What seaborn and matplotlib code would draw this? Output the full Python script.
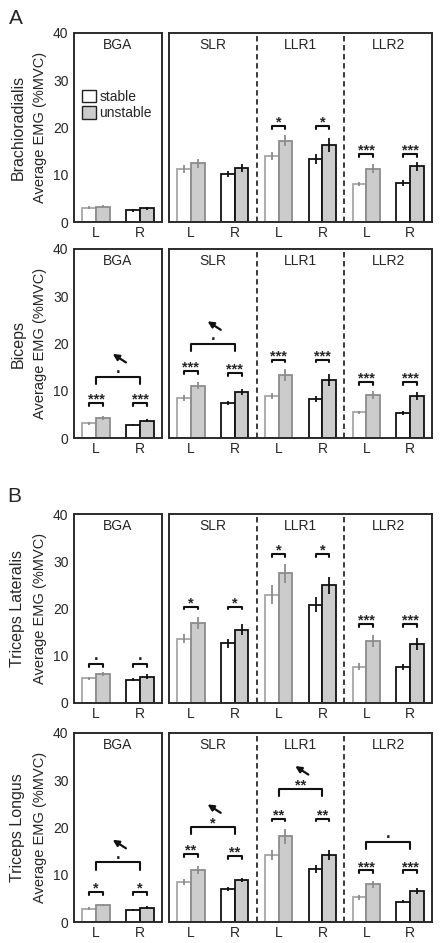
import numpy as np
import pandas as pd
import matplotlib.pyplot as plt
import seaborn as sns
from matplotlib.patches import Patch

# ---- data ----
windows = ["BGA", "SLR", "LLR1", "LLR2"]
sides = ["L", "R"]
conditions = ["stable", "unstable"]
muscles = ["Brachioradialis", "Biceps", "Triceps Lateralis", "Triceps Longus"]

# order of every list: BGA-L, BGA-R, SLR-L, SLR-R, LLR1-L, LLR1-R, LLR2-L, LLR2-R
brachio_stable = [3.0, 2.5, 11.2, 10.2, 14.0, 13.3, 8.0, 8.3]
brachio_unstable = [3.2, 2.9, 12.4, 11.4, 17.2, 16.3, 11.3, 11.8]
brachio_stable_err = [0.3, 0.3, 0.8, 0.6, 0.9, 1.0, 0.4, 0.6]
brachio_unstable_err = [0.3, 0.3, 1.0, 0.9, 1.2, 1.4, 1.0, 1.0]

biceps_stable = [3.1, 2.8, 8.4, 7.4, 8.9, 8.3, 5.4, 5.3]
biceps_unstable = [4.3, 3.7, 11.1, 9.7, 13.3, 12.3, 9.1, 8.9]
biceps_stable_err = [0.3, 0.2, 0.6, 0.5, 0.7, 0.6, 0.4, 0.5]
biceps_unstable_err = [0.4, 0.3, 0.8, 0.7, 1.2, 1.2, 0.8, 0.9]

tri_lat_stable = [5.2, 4.9, 13.6, 12.6, 22.9, 20.8, 7.7, 7.6]
tri_lat_unstable = [6.2, 5.6, 16.9, 15.5, 27.5, 24.9, 13.1, 12.5]
tri_lat_stable_err = [0.4, 0.3, 0.9, 1.0, 2.0, 1.6, 0.7, 0.6]
tri_lat_unstable_err = [0.4, 0.5, 1.2, 1.2, 2.0, 1.8, 1.2, 1.2]

tri_long_stable = [2.8, 2.5, 8.4, 7.0, 14.2, 11.2, 5.2, 4.3]
tri_long_unstable = [3.6, 3.0, 11.0, 8.9, 18.1, 14.2, 8.0, 6.6]
tri_long_stable_err = [0.3, 0.2, 0.6, 0.4, 1.0, 0.8, 0.5, 0.3]
tri_long_unstable_err = [0.3, 0.3, 0.9, 0.5, 1.5, 1.0, 0.7, 0.6]

# stable vs unstable brackets: (window, side, label, bracket height)
brachio_pairs = [("LLR1", "L", "*", 20.3), ("LLR1", "R", "*", 20.3),
                 ("LLR2", "L", "***", 14.3), ("LLR2", "R", "***", 14.3)]
biceps_pairs = [("BGA", "L", "***", 7.4), ("BGA", "R", "***", 7.4),
                ("SLR", "L", "***", 14.1), ("SLR", "R", "***", 13.8),
                ("LLR1", "L", "***", 16.6), ("LLR1", "R", "***", 16.6),
                ("LLR2", "L", "***", 11.8), ("LLR2", "R", "***", 11.8)]
tri_lat_pairs = [("BGA", "L", ".", 8.3), ("BGA", "R", ".", 8.3),
                 ("SLR", "L", "*", 20.4), ("SLR", "R", "*", 20.4),
                 ("LLR1", "L", "*", 31.6), ("LLR1", "R", "*", 31.6),
                 ("LLR2", "L", "***", 16.7), ("LLR2", "R", "***", 16.7)]
tri_long_pairs = [("BGA", "L", "*", 6.4), ("BGA", "R", "*", 6.4),
                  ("SLR", "L", "**", 14.3), ("SLR", "R", "**", 14.0),
                  ("LLR1", "L", "**", 21.9), ("LLR1", "R", "**", 21.9),
                  ("LLR2", "L", "***", 10.9), ("LLR2", "R", "***", 10.9)]

# L vs R brackets: (window, label, bracket height, arrow)
brachio_groups = []
biceps_groups = [("BGA", ".", 13.0, True), ("SLR", ".", 19.9, True)]
tri_lat_groups = []
tri_long_groups = [("BGA", ".", 12.6, True), ("SLR", "*", 20.1, True),
                   ("LLR1", "**", 28.2, True), ("LLR2", ".", 16.9, False)]

stable_vals = [brachio_stable, biceps_stable, tri_lat_stable, tri_long_stable]
unstable_vals = [brachio_unstable, biceps_unstable, tri_lat_unstable, tri_long_unstable]
stable_errs = [brachio_stable_err, biceps_stable_err, tri_lat_stable_err, tri_long_stable_err]
unstable_errs = [brachio_unstable_err, biceps_unstable_err, tri_lat_unstable_err, tri_long_unstable_err]
pair_sig = [brachio_pairs, biceps_pairs, tri_lat_pairs, tri_long_pairs]
group_sig = [brachio_groups, biceps_groups, tri_lat_groups, tri_long_groups]

slots = [w + "-" + s for w in windows for s in sides]

rows = []
for m, muscle in enumerate(muscles):
    for i, slot in enumerate(slots):
        rows.append([muscle, slot, "stable", stable_vals[m][i], stable_errs[m][i]])
        rows.append([muscle, slot, "unstable", unstable_vals[m][i], unstable_errs[m][i]])
data = pd.DataFrame(rows, columns=["muscle", "slot", "condition", "emg", "err"])

# ---- style ----
sns.set_style("white")
plt.rcParams["font.family"] = ["Liberation Sans", "DejaVu Sans"]

fill = {"stable": "white", "unstable": "#cccccc"}
edge_L = {"stable": "#a6a6a6", "unstable": "#8c8c8c"}
edge_R = {"stable": "#111111", "unstable": "#111111"}
spine_col = "#2b2b2b"

W, H = 442, 943
fig = plt.figure(figsize=(W / 100, H / 100), dpi=100)


def px_axes(x0, y0, w, h):
    return fig.add_axes([x0 / W, 1 - (y0 + h) / H, w / W, h / H])


def sig_text(ax, x, h, lab):
    # stars / marginal dot sitting just above a bracket
    if lab == ".":
        ax.text(x, h + 0.8, ".", ha="center", va="baseline", fontsize=12,
                fontweight="bold")
    else:
        ax.text(x, h - 0.1, lab, ha="center", va="baseline", fontsize=10.5,
                fontweight="bold")


def draw_panel(ax, sub, order, pairs, groups, show_y):
    sns.barplot(data=sub, x="slot", y="emg", hue="condition", order=order,
                hue_order=conditions, palette=fill, width=0.62, saturation=1,
                errorbar=None, legend=False, ax=ax)
    centers = {}
    for cond, cont in zip(conditions, ax.containers):
        for slot, bar in zip(order, cont):
            row = sub[(sub["slot"] == slot) & (sub["condition"] == cond)].iloc[0]
            side = slot.split("-")[1]
            ec = edge_L[cond] if side == "L" else edge_R[cond]
            ebc = "#8c8c8c" if side == "L" else "#111111"
            bar.set_edgecolor(ec)
            bar.set_linewidth(1.3)
            xc = bar.get_x() + bar.get_width() / 2
            centers[(slot, cond)] = xc
            ax.errorbar(xc, row["emg"], yerr=row["err"], fmt="none", ecolor=ebc,
                        elinewidth=1.3, capsize=0, zorder=3)

    for w, s, lab, h in pairs:
        slot = w + "-" + s
        x0, x1 = centers[(slot, "stable")], centers[(slot, "unstable")]
        ax.plot([x0, x0, x1, x1], [h - 0.6, h, h, h - 0.6], color="#111111", lw=1.5)
        sig_text(ax, (x0 + x1) / 2, h, lab)

    for w, lab, h, arrow in groups:
        xl = order.index(w + "-L")
        xr = order.index(w + "-R")
        ax.plot([xl, xl, xr, xr], [h - 1.5, h, h, h - 1.5], color="#111111", lw=1.5)
        gc = (xl + xr) / 2
        sig_text(ax, gc, h, lab)
        if arrow:
            ax.annotate("", xy=(gc - 0.12, h + 4.8), xytext=(gc + 0.18, h + 3.0),
                        arrowprops=dict(arrowstyle="-|>", color="#111111", lw=1.6,
                                        mutation_scale=9, shrinkA=0, shrinkB=0))

    ax.set_xlim(-0.5, len(order) - 0.5)
    ax.set_ylim(0, 40)
    ax.set_xlabel("")
    ax.set_ylabel("")
    ax.set_xticks(range(len(order)))
    ax.set_xticklabels([o.split("-")[1] for o in order], fontsize=10)
    ax.tick_params(axis="x", length=0, pad=3)
    if show_y:
        ax.set_yticks([0, 10, 20, 30, 40])
        ax.tick_params(axis="y", direction="in", length=4, width=1.2,
                       color=spine_col, labelsize=10, pad=4)
    else:
        ax.set_yticks([])
    for sp in ax.spines.values():
        sp.set_visible(True)
        sp.set_color(spine_col)
        sp.set_linewidth(1.4)
    for k in range(1, len(order) // 2):
        ax.axvline(2 * k - 0.5, color=spine_col, lw=1.3, ls=(0, (3, 2)))
    for k in range(len(order) // 2):
        ax.text(2 * k + 0.5, 37.4, order[2 * k].split("-")[0], ha="center",
                va="center", fontsize=10)


row_tops = [33, 249, 514, 733]
row_h = 189
for m, muscle in enumerate(muscles):
    sub = data[data["muscle"] == muscle]
    top = row_tops[m]
    ax_bga = px_axes(74, top, 88, row_h)
    ax_rest = px_axes(169, top, 263, row_h)
    pairs = pair_sig[m]
    groups = group_sig[m]
    draw_panel(ax_bga, sub, slots[:2], [p for p in pairs if p[0] == "BGA"],
               [g for g in groups if g[0] == "BGA"], True)
    draw_panel(ax_rest, sub, slots[2:], [p for p in pairs if p[0] != "BGA"],
               [g for g in groups if g[0] != "BGA"], False)

    yc = 1 - (top + row_h / 2) / H
    fig.text(18 / W, yc, muscle, rotation=90, ha="center", va="center", fontsize=11.5)
    fig.text(40 / W, yc, "Average EMG (%MVC)", rotation=90, ha="center",
             va="center", fontsize=10.5)

    if m == 0:
        handles = [Patch(facecolor=fill[c], edgecolor="#222222", lw=1.0) for c in conditions]
        ax_bga.legend(handles, conditions, loc="upper left", bbox_to_anchor=(0.03, 0.73),
                      frameon=False, fontsize=10, handlelength=1.0, handleheight=1.0,
                      handletextpad=0.25, labelspacing=0.2, borderaxespad=0)

fig.text(16 / W, 1 - 18 / H, "A", ha="center", va="center", fontsize=15)
fig.text(14 / W, 1 - 496 / H, "B", ha="center", va="center", fontsize=15)

fig.savefig("out.png", dpi=100)
